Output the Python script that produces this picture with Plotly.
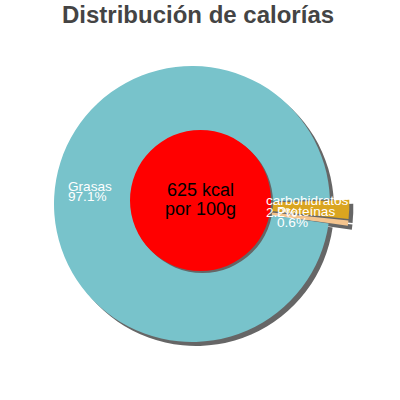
import plotly.graph_objects as go

# ---- data ----
labels = ["carbohidratos", "Proteínas", "Grasas"]
values = [2.2, 0.6, 97.1]
pct_text = ["2.2%", "0.6%", "97.1%"]
colors = ["#daa520", "#f4c48e", "#78c3cb"]
pulls = [0.14, 0.14, 0.0]
title = "Distribución de calorías"
center_lines = ["625 kcal", "por 100g"]

W = H = 400
CX, CY, R = 192, 204, 138
SHADOW = 4
ROT = 88


def dom(cx, cy, r, maxpull):
    h = r * (1 + maxpull)
    return dict(x=[(cx - h) / W, (cx + h) / W], y=[1 - (cy + h) / H, 1 - (cy - h) / H])


mp = max(pulls)
fig = go.Figure()
# shadow pie
fig.add_trace(go.Pie(
    labels=labels, values=values, sort=False, direction="clockwise", rotation=ROT,
    pull=pulls, marker=dict(colors=["#666666"] * 3, line=dict(width=0)),
    textinfo="none", hoverinfo="skip", showlegend=False,
    domain=dom(CX + SHADOW, CY + SHADOW, R, mp),
))
# main pie
fig.add_trace(go.Pie(
    labels=labels, values=values, sort=False, direction="clockwise", rotation=ROT,
    pull=pulls, marker=dict(colors=colors, line=dict(width=0)),
    textinfo="none", hoverinfo="label+percent", showlegend=False,
    domain=dom(CX, CY, R, mp),
))


def px(x):
    return x / W


def py(y):
    return 1 - y / H


# red centre circle with shadow
RC_X, RC_Y, RC_R = 200.5, 200.5, 70.5
fig.add_shape(type="circle", xref="paper", yref="paper",
              x0=px(RC_X - RC_R + 2), x1=px(RC_X + RC_R + 2),
              y0=py(RC_Y + RC_R + 2), y1=py(RC_Y - RC_R + 2),
              fillcolor="#666666", line=dict(width=0), layer="above")
fig.add_shape(type="circle", xref="paper", yref="paper",
              x0=px(RC_X - RC_R), x1=px(RC_X + RC_R),
              y0=py(RC_Y + RC_R), y1=py(RC_Y - RC_R),
              fillcolor="#ff0000", line=dict(width=0), layer="above")

FONT = "Liberation Sans, Arial, sans-serif"
ann = []
# title
ann.append(dict(text="<b>" + title + "</b>", x=px(198), y=py(15), xanchor="center", yanchor="middle",
                font=dict(family=FONT, size=24, color="#444444")))
# centre text
for t, yy in zip(center_lines, [189.5, 208.5]):
    ann.append(dict(text=t, x=px(200.5), y=py(yy), xanchor="center", yanchor="middle",
                    font=dict(family=FONT, size=18, color="#000000")))
# slice labels (left anchored, two lines)
label_pos = {
    "Grasas": (66, 186),
    "carbohidratos": (264, 201),
    "Proteínas": (275, 211),
}
line_gap = 11
for lab, pt in zip(labels, pct_text):
    x0, y0 = label_pos[lab]
    for t, yy in ((lab, y0), (pt, y0 + line_gap)):
        ann.append(dict(text=t, x=px(x0), y=py(yy), xanchor="left", yanchor="middle",
                        font=dict(family=FONT, size=13.6, color="#ffffff")))
for a in ann:
    a.update(xref="paper", yref="paper", showarrow=False)

fig.update_layout(width=W, height=H, margin=dict(l=0, r=0, t=0, b=0),
                  paper_bgcolor="#ffffff", plot_bgcolor="#ffffff", annotations=ann)
fig.write_html("out.html", config={"displayModeBar": False},
               post_script="document.body.style.margin='0';")
